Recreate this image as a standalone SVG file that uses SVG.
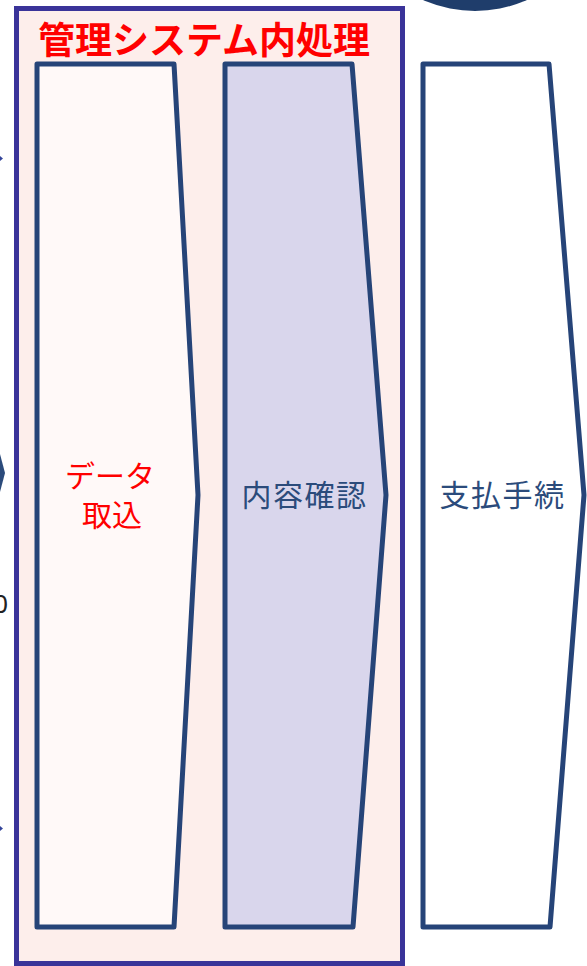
<svg xmlns="http://www.w3.org/2000/svg" width="587" height="966" viewBox="0 0 587 966">
<style>
.step{stroke:#264478;stroke-width:5;stroke-linejoin:round}
.lbl{font-family:"Noto Sans CJK JP","Noto Sans",sans-serif;font-size:30px;text-anchor:middle}
.navy{fill:#2B4B7B}
.red{fill:#FF0000}
</style>
<rect width="587" height="966" fill="#FFFFFF"/>
<g id="fragments">
<ellipse cx="475" cy="-117" rx="128" ry="128" fill="#1F3D6B"/>
<polygon points="0,156 3,158.5 0,161" fill="#33449A"/>
<polygon points="0,826 3,828.5 0,831" fill="#33449A"/>
<polygon points="0,454 5,473 0,492" fill="#2B4B7B"/>
<text x="8" y="613" font-family="'Noto Sans','Liberation Sans',sans-serif" font-size="26" text-anchor="end" fill="#222">0</text>
</g>
<g id="system-group">
<rect x="16.5" y="8.5" width="386" height="955" fill="#FDEEEB" stroke="#3A3399" stroke-width="5"/>
<text x="204" y="54" font-family="'Noto Sans CJK JP','Noto Sans',sans-serif" font-size="37" font-weight="700" text-anchor="middle" fill="#FF0000">管理システム内処理</text>
</g>
<g id="connectors"></g>
<g id="step-import">
<polygon class="step" points="37,64 174,64 198,495 174,927 37,927" fill="#FFF9F8"/>
<text class="lbl red" x="110" y="487" font-size="26">データ</text>
<text class="lbl red" x="112" y="526" font-size="29">取込</text>
</g>
<g id="step-check">
<polygon class="step" points="225,64 352,64 386,495 353,927 225,927" fill="#D9D6EC"/>
<text class="lbl navy" x="304.5" y="506" letter-spacing="1.5">内容確認</text>
</g>
<g id="step-pay">
<polygon class="step" points="423,64 549,64 584,495 550,927 423,927" fill="#FFFFFF"/>
<text class="lbl navy" x="502.5" y="506" letter-spacing="1.5">支払手続</text>
</g>
</svg>
